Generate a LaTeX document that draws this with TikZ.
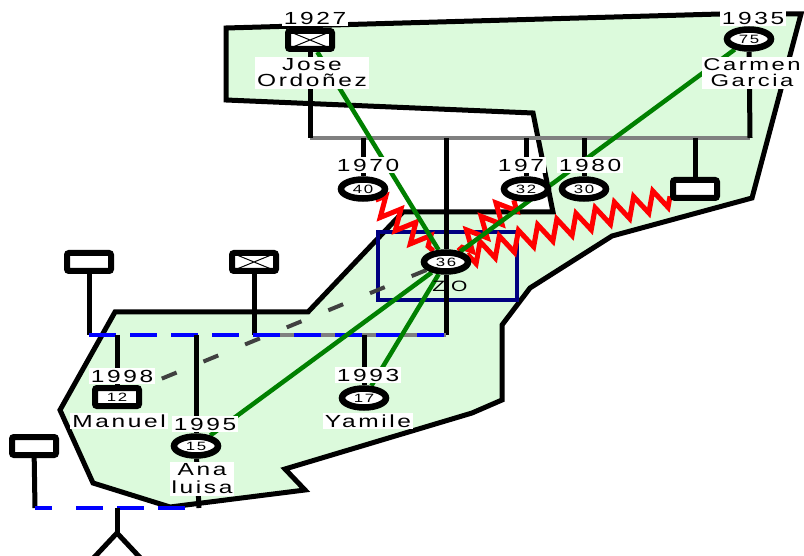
\documentclass[tikz,border=0pt]{standalone}
\usepackage{fontspec}
\newfontfamily\lab[FakeStretch=1.4,LetterSpace=15]{Liberation Sans}
\usetikzlibrary{shapes.geometric,decorations.pathmorphing}
\definecolor{regfill}{RGB}{220,250,220}
\definecolor{dgreen}{RGB}{0,128,0}
\definecolor{navyb}{RGB}{0,0,128}
\definecolor{dashgray}{RGB}{64,64,64}
\definecolor{sibgray}{RGB}{128,128,128}
\pgfdeclarelayer{bg}
\pgfdeclarelayer{lines}
\pgfsetlayers{bg,lines,main}
\tikzset{
  male/.style={draw=black, line width=6pt, fill=white, rounded corners=2pt,
    minimum width=44pt, minimum height=18pt, inner sep=0pt,
    font=\lab\fontsize{12}{12}\selectfont},
  dead/.style={path picture={\draw[line width=1pt]
    (path picture bounding box.north west) -- (path picture bounding box.south east)
    (path picture bounding box.south west) -- (path picture bounding box.north east);}},
  female/.style={ellipse, draw=black, line width=6.5pt, fill=white,
    minimum width=44pt, minimum height=19pt, inner sep=0pt,
    font=\lab\fontsize{12}{12}\selectfont},
  lbl/.style={fill=white, inner sep=2pt, font=\lab\fontsize{17.5}{16}\selectfont, align=center},
  stub/.style={line width=5pt, draw=black},
  sibline/.style={line width=4pt, draw=sibgray},
  bluedash/.style={line width=4pt, draw=blue, dash pattern=on 27pt off 14pt},
  grayrel/.style={line width=4pt, draw=dashgray, dash pattern=on 16pt off 29pt},
  hostile/.style={line width=5pt, draw=red, decorate,
    decoration={zigzag, segment length=20pt, amplitude=10pt}},
  close/.style={line width=4.5pt, draw=dgreen},
  focus/.style={line width=4.5pt, draw=navyb},
  region/.style={line width=5pt, draw=black, fill=regfill}
}
\begin{document}
\begin{tikzpicture}[x=1pt,y=-1pt]
\useasboundingbox (0,0) rectangle (804,556);

% people
\node[male,dead] (jose) at (310,40) {};
\node[female] (carmen) at (749,39) {75};
\node[female] (p40) at (363,189) {40};
\node[female] (p32) at (526,189) {32};
\node[female] (p30) at (584,189) {30};
\node[male] (rsq) at (695,189) {};
\node[female] (zo) at (446,262) {36};
\node[male] (lsq) at (89,262) {};
\node[male,dead] (xsq) at (254,262) {};
\node[male] (manuel) at (117,397) {12};
\node[female] (ana) at (196,446) {15};
\node[female] (yamile) at (364,398) {17};
\node[male] (bsq) at (34,446) {};

% labels
\node[lbl] (l1927) at (315,18) {1927};
\node[lbl] (ljose) at (312,73) {Jose\\Ordoñez};
\node[lbl] (l1935) at (753,18) {1935};
\node[lbl, inner xsep=1pt, font=\lab\fontsize{17}{16}\selectfont] (lcarmen) at (752,73) {Carmen\\Garcia};
\node[lbl] (l1970) at (368,165) {1970};
\node[lbl] (l197) at (521,165) {197};
\node[lbl] (l1980) at (590,165) {1980};
\node[font=\lab\fontsize{15}{15}\selectfont] (lzo) at (450,286) {Z\kern6pt O};
\node[lbl] (l1998) at (122,376) {1998};
\node[lbl] (lmanuel) at (119,421) {Manuel};
\node[lbl] (l1995) at (205,424) {1995};
\node[lbl, font=\lab\fontsize{17.5}{18}\selectfont] (lana) at (202,479) {Ana\\luisa};
\node[lbl] (l1993) at (368,375) {1993};
\node[lbl] (lyamile) at (368,421) {Yamile};

% junction points
\coordinate (sibL) at (310,138);
\coordinate (sibR) at (750,138);
\coordinate (uA) at (89,335);
\coordinate (uB) at (254,335);
\coordinate (uC) at (446,335);
\coordinate (uD) at (35,508);
\coordinate (uE) at (199,508);
\coordinate (uM) at (117,508);
\coordinate (tri) at (117,533);

\begin{pgfonlayer}{bg}
\draw[region] (226,28) -- (720,14) -- (801,14) -- (752,198) -- (612,236)
  -- (530,288) -- (502,325) -- (502,400) -- (472,413) -- (285,469)
  -- (305,490) -- (170,507) -- (93,483) -- (60,410) -- (115,312)
  -- (308,312) -- (403,212) -- (553,212) -- (533,113) -- (226,100) -- cycle;
\end{pgfonlayer}

\begin{pgfonlayer}{lines}
% top sibship
\draw[sibline] (sibL) -- (sibR);
\draw[stub] (jose) -- (sibL);
\draw[stub] (carmen) -- (sibR);
\draw[stub] (p40.center |- sibL) -- (p40);
\draw[stub] (p32.center |- sibL) -- (p32);
\draw[stub] (p30.center |- sibL) -- (p30);
\draw[stub] (rsq.center |- sibL) -- (rsq);
% focus box
\draw[focus] (378,232) rectangle (517,300);
\draw[stub] (zo.center |- sibL) -- (zo);
\draw[stub] (zo) -- (uC);
% lower unions
\draw[stub] (lsq) -- (uA);
\draw[stub] (xsq) -- (uB);
\draw[sibline] (uB) -- (uC);
\draw[bluedash] (uA) -- (uC);
\draw[stub] (manuel.center |- uA) -- (manuel);
\draw[stub] (ana.center |- uA) -- (ana);
\draw[stub] (yamile.center |- uA) -- (yamile);
% bottom union
\draw[stub] (bsq) -- (uD);
\draw[stub] (ana) -- (uE);
\draw[line width=4pt, draw=blue,
  dash pattern=on 17pt off 24pt on 27pt off 14pt on 27pt off 14pt on 27pt off 14pt] (uD) -- (uE);
\draw[stub] (uM) -- (tri);
\draw[line width=5pt, fill=white] (tri) -- ++(-30,32) -- ++(60,0) -- cycle;
% relations
\draw[grayrel] (zo) -- (manuel);
\draw[hostile] (p40) -- (zo);
\draw[hostile] (p32) -- (zo);
\draw[hostile] (rsq) -- (zo);
\draw[close] (jose) -- (zo);
\draw[close] (carmen) -- (zo);
\draw[close] (zo) -- (ana);
\draw[close] (zo) -- (yamile);
\end{pgfonlayer}
\end{tikzpicture}
\end{document}
